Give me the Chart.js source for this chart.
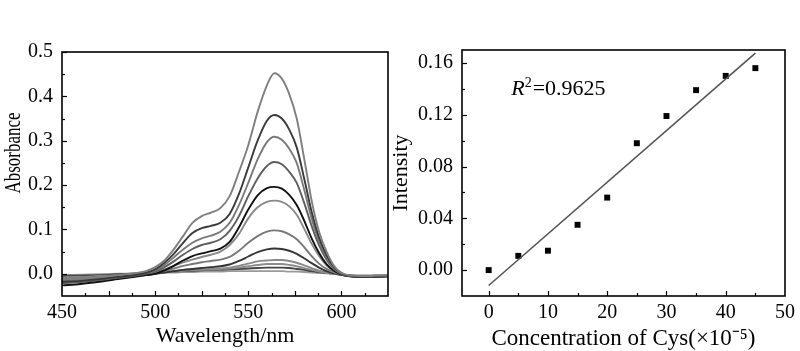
<!DOCTYPE html>
<html><head><meta charset="utf-8">
<script src="https://cdn.jsdelivr.net/npm/chart.js@4/dist/chart.umd.min.js"></script>
<style>
html,body{margin:0;padding:0;background:#fff;}
#wrap{position:relative;width:800px;height:351px;overflow:hidden;background:#fff;}
canvas{position:absolute;top:0;}
</style></head><body>
<div id="wrap">
<canvas id="c1" width="390" height="351" style="left:0;width:390px;height:351px"></canvas>
<canvas id="c2" width="410" height="351" style="left:390px;width:410px;height:351px"></canvas>
</div>
<script>
// ---------- data: left panel (absorption spectra) ----------
const wavelengths = [450,460,470,480,490,495,500,505,510,515,520,525,530,535,540,545,550,555,560,564,568,572,576,580,584,588,592,596,600,605,610,615,620,625];
const spectrumA = [-0.012,-0.010,-0.007,-0.003,0.002,0.006,0.015,0.030,0.055,0.085,0.115,0.130,0.138,0.148,0.175,0.230,0.290,0.365,0.425,0.452,0.440,0.405,0.350,0.260,0.165,0.095,0.050,0.018,0.002,-0.004,-0.005,-0.005,-0.004,-0.004];
const spectrumB = [-0.018,-0.016,-0.012,-0.007,-0.002,0.002,0.010,0.025,0.045,0.070,0.092,0.103,0.108,0.115,0.135,0.180,0.240,0.300,0.345,0.358,0.350,0.325,0.285,0.215,0.140,0.082,0.042,0.015,0.001,-0.005,-0.006,-0.006,-0.006,-0.005];
const spectrumC = [-0.015,-0.013,-0.010,-0.006,-0.001,0.002,0.008,0.020,0.037,0.055,0.070,0.080,0.086,0.095,0.115,0.155,0.205,0.258,0.297,0.309,0.302,0.282,0.250,0.190,0.125,0.073,0.037,0.013,0.000,-0.004,-0.005,-0.005,-0.005,-0.004];
const spectrumD = [-0.020,-0.018,-0.014,-0.009,-0.004,0.000,0.005,0.015,0.028,0.043,0.056,0.065,0.070,0.078,0.097,0.130,0.175,0.215,0.243,0.252,0.247,0.230,0.205,0.160,0.108,0.064,0.032,0.011,0.000,-0.005,-0.006,-0.006,-0.005,-0.005];
const spectrumE = [-0.026,-0.023,-0.018,-0.012,-0.006,-0.003,0.000,0.008,0.018,0.030,0.040,0.046,0.051,0.057,0.072,0.105,0.145,0.177,0.193,0.196,0.192,0.178,0.155,0.120,0.080,0.047,0.022,0.007,-0.002,-0.006,-0.007,-0.007,-0.006,-0.006];
const spectrumF = [-0.013,-0.011,-0.009,-0.006,-0.002,0.000,0.004,0.010,0.018,0.026,0.032,0.038,0.043,0.050,0.065,0.090,0.125,0.150,0.162,0.165,0.162,0.152,0.133,0.102,0.068,0.040,0.019,0.006,-0.002,-0.005,-0.006,-0.006,-0.005,-0.005];
const spectrumG = [-0.010,-0.009,-0.007,-0.004,-0.001,0.001,0.003,0.007,0.012,0.018,0.022,0.026,0.029,0.032,0.038,0.052,0.070,0.085,0.095,0.098,0.096,0.089,0.078,0.060,0.040,0.023,0.011,0.003,-0.002,-0.004,-0.005,-0.005,-0.005,-0.004];
const spectrumH = [-0.020,-0.018,-0.014,-0.010,-0.005,-0.003,0.000,0.003,0.006,0.009,0.011,0.013,0.015,0.017,0.021,0.029,0.039,0.049,0.055,0.057,0.056,0.052,0.045,0.035,0.024,0.014,0.006,0.001,-0.002,-0.005,-0.006,-0.006,-0.006,-0.005];
const spectrumI = [-0.008,-0.007,-0.005,-0.003,0.000,0.001,0.002,0.004,0.006,0.008,0.009,0.010,0.011,0.012,0.014,0.018,0.023,0.028,0.030,0.031,0.031,0.029,0.025,0.019,0.013,0.007,0.003,0.000,-0.002,-0.004,-0.005,-0.005,-0.004,-0.004];
const spectrumJ = [-0.015,-0.013,-0.010,-0.007,-0.003,-0.001,0.001,0.003,0.005,0.007,0.008,0.009,0.010,0.011,0.012,0.014,0.017,0.020,0.022,0.022,0.022,0.020,0.017,0.013,0.009,0.005,0.002,0.000,-0.002,-0.005,-0.006,-0.006,-0.005,-0.005];
const spectrumK = [-0.005,-0.004,-0.003,-0.001,0.001,0.002,0.003,0.004,0.005,0.006,0.007,0.008,0.009,0.009,0.010,0.011,0.012,0.013,0.014,0.014,0.014,0.013,0.011,0.009,0.006,0.004,0.002,0.000,-0.002,-0.004,-0.004,-0.004,-0.004,-0.004];
const spectrumL = [-0.003,-0.002,-0.001,0.000,0.001,0.002,0.002,0.003,0.003,0.004,0.004,0.005,0.005,0.005,0.006,0.006,0.006,0.006,0.006,0.006,0.006,0.005,0.005,0.004,0.003,0.002,0.001,0.000,-0.002,-0.003,-0.004,-0.004,-0.003,-0.003];
const wavelengthTicks = [450,500,550,600];
const absorbanceTicks = [0.0,0.1,0.2,0.3,0.4,0.5];

// ---------- data: right panel (calibration) ----------
const concentration = [0,5,10,15,20,25,30,35,40,45];
const intensity = [0.000,0.011,0.015,0.035,0.056,0.098,0.119,0.139,0.150,0.156];
const fitX = [0,45];
const fitY = [-0.0119,0.1676];
const concentrationTicks = [0,10,20,30,40,50];
const intensityTicks = [0.00,0.04,0.08,0.12,0.16];
const r2Text = '=0.9625';

// ---------- styles ----------
const spectra = [spectrumA,spectrumB,spectrumC,spectrumD,spectrumE,spectrumF,spectrumG,spectrumH,spectrumI,spectrumJ,spectrumK,spectrumL];
const spectrumColors = ['#7f7f7f','#3a3a3a','#7a7a7a','#5e5e5e','#111111','#888888','#787878','#353535','#8a8a8a','#8c8c8c','#444444','#9a9a9a'];
const FONT = '"Liberation Serif","Times New Roman",serif';
Chart.defaults.color = '#000';
Chart.defaults.font.family = FONT;

function framePlugin(xt, yt) {
  return {
    id: 'frame',
    afterDraw(chart) {
      const {ctx, chartArea: a, scales} = chart;
      ctx.save();
      ctx.strokeStyle = '#000';
      ctx.lineWidth = 1.2;
      xt.forEach(([v, len]) => {
        const p = Math.round(scales.x.getPixelForValue(v)) + 0.5;
        ctx.beginPath(); ctx.moveTo(p, a.bottom); ctx.lineTo(p, a.bottom - len); ctx.stroke();
      });
      yt.forEach(([v, len]) => {
        const p = Math.round(scales.y.getPixelForValue(v)) + 0.5;
        ctx.beginPath(); ctx.moveTo(a.left, p); ctx.lineTo(a.left + len, p); ctx.stroke();
      });
      ctx.lineWidth = 1.6;
      ctx.strokeRect(a.left, a.top, a.right - a.left, a.bottom - a.top);
      ctx.restore();
    }
  };
}

// tick marks (major/minor) for each panel
const leftXMarks = [];
for (let i = 1; i < 14; i++) { const v = 450 + i * 12.5; leftXMarks.push([v, i % 2 === 0 ? 5 : 3]); }
const leftYMarks = [];
for (let i = 0; i < 10; i++) { leftYMarks.push([i * 0.05, i % 2 === 0 ? 5 : 3]); }
leftYMarks.push([0.5, 5]);
const rightXMarks = [];
for (let i = 0; i < 10; i++) { rightXMarks.push([i * 5, i % 2 === 0 ? 5 : 3]); }
const rightYMarks = [];
for (let i = 0; i < 9; i++) { rightYMarks.push([i * 0.02, i % 2 === 0 ? 5 : 3]); }

const absTitlePlugin = {
  id: 'absTitle',
  afterDraw(chart) {
    const ctx = chart.ctx;
    ctx.save();
    ctx.fillStyle = '#000';
    ctx.font = '17px ' + FONT;
    ctx.textAlign = 'center';
    ctx.textBaseline = 'middle';
    ctx.translate(14, 153);
    ctx.scale(1.3, 1);
    ctx.rotate(-Math.PI / 2);
    ctx.fillText('Absorbance', 0, 0);
    ctx.restore();
  }
};

new Chart(document.getElementById('c1'), {
  type: 'line',
  data: {
    datasets: spectra.map((s, k) => ({
      data: wavelengths.map((w, i) => ({x: w, y: s[i]})),
      borderColor: spectrumColors[k],
      borderWidth: 1.9,
      pointRadius: 0,
      cubicInterpolationMode: 'monotone',
      fill: false
    }))
  },
  options: {
    responsive: false,
    animation: false,
    devicePixelRatio: 1,
    layout: {padding: {top: 52, right: 2, left: 0, bottom: 0}},
    plugins: {legend: {display: false}, tooltip: {enabled: false}},
    scales: {
      x: {
        type: 'linear', min: 450, max: 625,
        afterFit(s) { s.height = 55; },
        afterBuildTicks(s) { s.ticks = wavelengthTicks.map(v => ({value: v})); },
        grid: {display: false, drawTicks: false},
        border: {display: false},
        ticks: {font: {size: 20, family: FONT}, padding: 5, maxRotation: 0, autoSkip: false},
        title: {display: true, text: 'Wavelength/nm', font: {size: 22, family: FONT, lineHeight: 1}, padding: {top: 0, bottom: 4}}
      },
      y: {
        type: 'linear', min: -0.05, max: 0.5,
        afterFit(s) { s.width = 62; },
        afterBuildTicks(s) { s.ticks = absorbanceTicks.map(v => ({value: v})); },
        grid: {display: false, drawTicks: false},
        border: {display: false},
        ticks: {font: {size: 20, family: FONT}, padding: 9, callback: v => v.toFixed(1)}
      }
    }
  },
  plugins: [framePlugin(leftXMarks, leftYMarks), absTitlePlugin]
});

const r2Plugin = {
  id: 'r2',
  afterDraw(chart) {
    const ctx = chart.ctx;
    const x = chart.scales.x.getPixelForValue(3.8);
    const y = chart.scales.y.getPixelForValue(0.1352);
    ctx.save();
    ctx.fillStyle = '#000';
    ctx.textBaseline = 'alphabetic';
    ctx.textAlign = 'left';
    ctx.font = 'italic 22px ' + FONT;
    ctx.fillText('R', x, y);
    let w = ctx.measureText('R').width;
    ctx.font = '14px ' + FONT;
    ctx.fillText('2', x + w, y - 8);
    w += ctx.measureText('2').width + 1;
    ctx.font = '22px ' + FONT;
    ctx.fillText(r2Text, x + w, y);
    ctx.restore();
  }
};

new Chart(document.getElementById('c2'), {
  type: 'scatter',
  data: {
    datasets: [
      {
        type: 'line',
        data: fitX.map((v, i) => ({x: v, y: fitY[i]})),
        borderColor: '#555',
        borderWidth: 1.6,
        pointRadius: 0,
        fill: false
      },
      {
        data: concentration.map((v, i) => ({x: v, y: intensity[i]})),
        pointStyle: 'rect',
        pointRadius: 4.2,
        backgroundColor: '#000',
        borderColor: '#000',
        borderWidth: 0
      }
    ]
  },
  options: {
    responsive: false,
    animation: false,
    devicePixelRatio: 1,
    layout: {padding: {top: 50, right: 11, left: 0, bottom: 0}},
    plugins: {legend: {display: false}, tooltip: {enabled: false}},
    scales: {
      x: {
        type: 'linear', min: -4.5, max: 50,
        afterFit(s) { s.height = 55; },
        afterBuildTicks(s) { s.ticks = concentrationTicks.map(v => ({value: v})); },
        grid: {display: false, drawTicks: false},
        border: {display: false},
        ticks: {font: {size: 20, family: FONT}, padding: 5, maxRotation: 0, autoSkip: false},
        title: {display: true, text: 'Concentration of Cys(×10⁻⁵)', font: {size: 23, family: FONT, lineHeight: 1}, padding: {top: 0, bottom: 1}}
      },
      y: {
        type: 'linear', min: -0.02, max: 0.17,
        afterFit(s) { s.width = 72; },
        afterBuildTicks(s) { s.ticks = intensityTicks.map(v => ({value: v})); },
        grid: {display: false, drawTicks: false},
        border: {display: false},
        ticks: {font: {size: 20, family: FONT}, padding: 9, callback: v => v.toFixed(2)},
        title: {display: true, text: 'Intensity', font: {size: 22, family: FONT, lineHeight: 1}, padding: {top: 0, bottom: 0}}
      }
    }
  },
  plugins: [framePlugin(rightXMarks, rightYMarks), r2Plugin]
});
</script>
</body></html>
